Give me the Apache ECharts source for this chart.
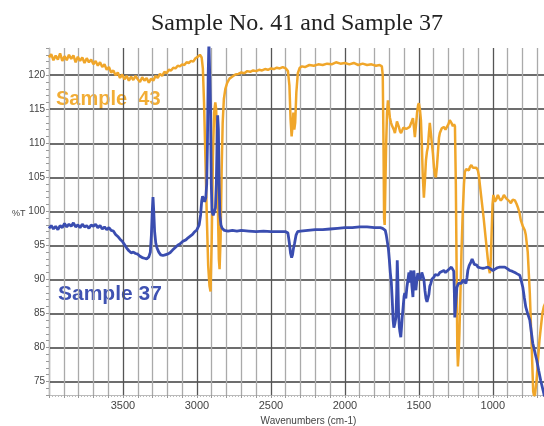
<!DOCTYPE html>
<html>
<head>
<meta charset="utf-8">
<script src="https://cdn.jsdelivr.net/npm/echarts@6/dist/echarts.min.js"></script>
<style>
  html, body { margin: 0; padding: 0; background: #fff; }
  #chart { width: 544px; height: 426px; }
</style>
</head>
<body>
<div id="chart"></div>
<script>
// Sample 43 (orange) : wavenumber cm-1 / %T
var wn43 = [
  4000,3985,3970,3955,3940,3925,3910,3895,3880,3865,
  3850,3835,3820,3805,3790,3775,3760,3745,3730,3715,
  3700,3685,3670,3655,3640,3625,3610,3595,3580,3565,
  3550,3535,3520,3505,3490,3475,3460,3445,3430,3415,
  3400,3385,3370,3355,3340,3325,3310,3295,3280,3265,
  3250,3235,3220,3205,3190,3175,3160,3145,3130,3115,
  3100,3085,3070,3055,3040,3025,3010,2995,2980,2968,
  2960,2952,2943,2933,2924,2915,2908,2900,2892,2884,
  2876,2870,2864,2858,2852,2847,2840,2833,2826,2818,
  2808,2795,2780,2760,2740,2720,2700,2680,2660,2640,
  2620,2600,2580,2560,2540,2520,2500,2480,2460,2440,
  2420,2400,2385,2375,2367,2360,2354,2348,2342,2336,
  2328,2318,2305,2290,2270,2240,2210,2180,2150,2120,
  2090,2060,2030,2000,1970,1940,1910,1880,1850,1820,
  1790,1765,1750,1744,1739,1735,1731,1727,1721,1715,
  1709,1702,1696,1688,1682,1676,1669,1662,1655,1648,
  1642,1635,1628,1620,1615,1605,1595,1585,1574,1562,
  1550,1540,1533,1527,1520,1512,1505,1500,1493,1486,
  1480,1474,1466,1459,1452,1445,1439,1432,1426,1419,
  1412,1405,1398,1391,1385,1378,1370,1364,1358,1345,
  1331,1320,1311,1300,1291,1280,1270,1262,1256,1250,
  1245,1240,1236,1231,1226,1220,1212,1203,1195,1189,
  1180,1170,1162,1155,1145,1135,1122,1112,1101,1094,
  1088,1075,1062,1048,1034,1026,1020,1014,1008,1002,
  996,986,976,966,956,946,935,925,919,910,
  899,889,878,865,851,840,831,820,811,797,
  784,777,764,750,737,727,718,705,695,685,
  675,665,655,645
];
var t43 = [
  122.6,123.1,122.2,122.9,122.3,123.2,122.1,122.8,122.2,123.0,
  122.4,122.9,121.9,122.7,122.1,122.6,121.8,122.5,121.9,122.3,
  121.6,122.1,121.4,121.9,121.2,121.6,120.8,121.2,120.4,120.7,
  120.0,120.4,119.6,120.1,119.4,119.9,119.2,119.8,119.3,119.9,
  119.4,119.0,119.7,119.2,119.6,118.9,119.5,119.2,119.9,119.6,
  120.2,119.9,120.5,120.3,120.8,120.7,121.1,121.0,121.4,121.3,
  121.6,121.5,121.9,121.8,122.1,122.0,122.5,122.7,123.0,122.6,
  121.0,116.0,108.0,99.0,92.0,89.0,88.2,96.0,108.0,114.5,
  116.0,115.0,110.0,100.0,93.0,91.5,96.0,106.0,113.0,116.5,
  118.0,118.9,119.5,119.8,120.1,120.2,120.4,120.3,120.6,120.5,
  120.7,120.6,120.8,120.7,120.9,120.8,121.0,120.9,121.1,121.0,
  121.2,121.0,120.6,118.5,113.5,111.0,112.5,114.5,112.0,113.0,
  117.5,120.3,121.1,121.3,121.2,121.5,121.4,121.6,121.5,121.7,
  121.6,121.9,121.7,121.8,121.6,121.8,121.5,121.7,121.5,121.6,
  121.4,121.5,121.3,120.0,110.0,99.0,98.0,103.0,110.0,114.5,
  116.3,115.0,113.8,113.0,112.6,112.4,112.0,111.5,112.3,113.2,
  113.4,112.4,111.8,111.5,111.6,112.3,112.4,112.1,111.9,112.4,
  113.1,113.7,112.3,110.9,112.5,114.5,115.6,115.9,115.0,113.4,
  110.0,105.5,102.0,104.5,107.5,108.8,109.4,111.5,113.0,111.5,
  110.0,108.5,106.5,105.3,105.0,106.5,109.0,110.8,111.5,112.2,
  112.4,112.0,112.0,112.8,113.4,113.0,112.5,112.8,112.5,104.0,
  92.0,80.0,77.2,79.0,82.0,87.0,94.0,100.0,104.0,105.8,
  106.2,106.3,106.0,106.5,106.8,106.4,106.3,106.4,106.0,105.2,
  104.0,101.5,99.0,96.0,93.0,91.5,90.9,92.5,97.0,101.0,
  102.4,101.4,101.8,102.4,101.9,101.6,101.9,102.4,102.3,101.9,
  102.0,101.5,101.2,101.7,101.6,101.1,100.6,99.8,98.7,97.8,
  97.2,96.5,94.0,88.0,80.0,73.5,72.5,75.0,78.0,81.0,
  83.0,85.0,86.0,86.5
];

// Sample 37 (blue)
var wn37 = [
  4000,3985,3970,3955,3940,3925,3910,3895,3880,3865,
  3850,3835,3820,3805,3790,3775,3760,3745,3730,3715,
  3700,3685,3670,3655,3640,3625,3610,3595,3580,3565,
  3550,3535,3520,3505,3490,3475,3460,3445,3430,3415,
  3400,3385,3370,3355,3340,3325,3315,3308,3302,3297,
  3292,3286,3278,3270,3258,3245,3230,3215,3200,3182,
  3165,3150,3130,3115,3095,3075,3060,3047,3030,3015,
  3000,2985,2975,2968,2962,2955,2948,2940,2934,2929,
  2924,2919,2913,2908,2903,2898,2890,2882,2875,2869,
  2864,2860,2855,2850,2845,2838,2830,2815,2790,2760,
  2730,2700,2650,2600,2550,2500,2450,2400,2385,2375,
  2367,2360,2354,2348,2340,2330,2320,2300,2250,2200,
  2150,2100,2050,2000,1950,1900,1850,1800,1760,1745,
  1735,1727,1720,1713,1706,1700,1693,1686,1680,1674,
  1669,1662,1655,1650,1646,1642,1637,1632,1628,1622,
  1617,1612,1606,1600,1595,1588,1581,1574,1567,1561,
  1554,1547,1540,1534,1527,1520,1513,1507,1500,1493,
  1486,1480,1473,1466,1459,1452,1445,1439,1432,1426,
  1419,1412,1405,1399,1390,1378,1370,1358,1345,1331,
  1320,1311,1300,1291,1280,1270,1264,1260,1257,1252,
  1243,1233,1223,1213,1203,1192,1182,1175,1169,1160,
  1149,1140,1135,1125,1115,1108,1101,1085,1067,1050,
  1034,1020,1000,985,970,953,940,919,905,885,
  870,851,835,818,808,797,787,777,765,750,
  740,730,716,703,690,676,665,655,645
];
var t37 = [
  97.5,97.9,97.4,97.8,97.3,97.9,97.6,98.2,97.7,98.1,
  97.8,98.3,97.7,98.0,97.6,98.1,97.7,97.9,97.5,98.0,
  97.8,98.1,97.6,97.9,97.4,97.7,97.3,97.6,97.2,97.1,
  96.6,96.3,95.9,95.6,95.1,94.6,94.2,93.9,94.0,93.8,
  93.7,93.4,93.2,93.1,93.0,93.3,94.0,96.5,100.0,102.1,
  100.0,97.0,95.3,94.6,94.0,93.6,93.5,93.6,93.7,93.9,
  94.3,94.6,95.0,95.2,95.6,95.8,96.1,96.2,96.6,97.0,
  97.3,98.0,99.5,101.5,102.2,101.8,101.4,102.0,104.0,110.0,
  120.0,125.0,125.0,115.0,104.0,100.0,99.4,99.6,100.5,104.0,
  110.0,114.1,112.0,104.0,99.5,98.0,97.5,97.2,97.1,97.2,
  97.1,97.2,97.1,97.0,97.1,97.0,97.0,97.0,96.8,95.3,
  93.8,93.2,93.6,94.5,95.3,96.5,97.0,97.1,97.2,97.3,
  97.3,97.4,97.5,97.6,97.6,97.7,97.7,97.6,97.6,97.5,
  97.4,97.2,96.5,95.5,94.5,93.0,91.0,89.5,87.0,84.0,
  82.9,83.5,84.4,88.0,92.8,90.0,85.0,83.0,82.3,81.5,
  83.0,84.5,86.0,87.5,88.0,87.2,88.8,89.0,91.0,89.5,
  91.3,89.0,87.4,91.3,89.5,88.4,90.0,90.9,90.5,90.0,
  90.3,91.0,91.0,90.0,88.4,87.2,86.7,86.5,87.8,89.0,
  89.4,90.0,90.1,90.3,90.7,90.9,90.6,91.0,91.2,91.3,
  91.0,91.0,91.4,91.6,91.8,91.9,91.2,88.0,84.4,86.0,
  88.8,89.4,89.6,89.4,89.9,89.8,89.4,90.2,91.3,92.0,
  92.5,93.0,92.9,92.2,92.4,92.1,91.8,91.7,91.6,91.7,
  91.8,91.6,91.3,91.5,91.7,91.8,91.9,91.8,91.6,91.3,
  91.2,91.0,90.8,90.6,89.8,88.8,87.3,85.9,85.0,84.0,
  82.3,80.6,79.3,78.1,76.6,75.1,74.1,73.2,72.0
];

// labelled ticks
var xLabels = [1000, 1500, 2000, 2500, 3000, 3500];
var yLabels = [75, 80, 85, 90, 95, 100, 105, 110, 115, 120];

function pairs(wn, t) {
  var out = [];
  var n = Math.min(wn.length, t.length);
  for (var i = 0; i < n; i++) {
    out.push([wn[i], t[i]]);
  }
  return out;
}

var chart = echarts.init(document.getElementById('chart'));
var none = 'rgba(0,0,0,0)';

var option = {
  animation: false,
  backgroundColor: '#fff',
  title: {
    text: 'Sample No. 41 and Sample 37',
    left: 146,
    top: 7,
    textStyle: {
      fontFamily: 'Liberation Serif',
      fontSize: 24,
      fontWeight: 'normal',
      color: '#222'
    }
  },
  grid: { left: 49, right: -8, top: 48, bottom: 31, containLabel: false, outerBoundsMode: 'none' },
  xAxis: {
    type: 'value',
    inverse: true,
    min: 600,
    max: 4000,
    interval: 100,
    name: 'Wavenumbers (cm-1)',
    nameLocation: 'middle',
    nameGap: 20,
    nameTextStyle: { fontSize: 10, color: '#444', fontFamily: 'Liberation Sans', padding: [0, 0, 0, 16] },
    axisLine: { show: true, lineStyle: { color: '#bbb', width: 1 } },
    axisTick: { show: true, length: 3, lineStyle: { color: '#999' } },
    minorTick: { show: true, splitNumber: 5, length: 2, lineStyle: { color: '#bbb' } },
    axisLabel: {
      fontSize: 11,
      color: '#444',
      fontFamily: 'Liberation Sans',
      margin: 5,
      formatter: function (v) { return xLabels.indexOf(v) >= 0 ? String(v) : ''; }
    },
    splitLine: {
      show: true,
      lineStyle: { color: ['#aaa', '#aaa', '#aaa', '#aaa', '#555'], width: 1.3 }
    }
  },
  yAxis: {
    type: 'value',
    min: 73,
    max: 124,
    interval: 1,
    axisLine: { show: true, lineStyle: { color: '#bbb', width: 1 } },
    axisTick: { show: true, length: 3, lineStyle: { color: '#999' } },
    axisLabel: {
      fontSize: 10,
      color: '#444',
      fontFamily: 'Liberation Sans',
      margin: 4,
      formatter: function (v) { return yLabels.indexOf(v) >= 0 ? String(v) : ''; }
    },
    splitLine: {
      show: true,
      lineStyle: { color: [none, none, '#3c3c3c', none, none], width: 1.5 }
    }
  },
  graphic: [
    { type: 'text', left: 12, top: 209, style: { text: '%T', fontSize: 9, fill: '#444', fontFamily: 'Liberation Sans' } },
    { type: 'text', left: 56, top: 89, style: { text: 'Sample  43', fontSize: 20, fontWeight: 'bold', fill: '#f2ad35', fontFamily: 'Liberation Sans' } },
    { type: 'text', left: 58, top: 284, style: { text: 'Sample 37', fontSize: 21, fontWeight: 'bold', fill: '#3f52b2', fontFamily: 'Liberation Sans' } }
  ],
  series: [
    {
      name: 'Sample 43',
      type: 'line',
      data: pairs(wn43, t43),
      showSymbol: false,
      clip: true,
      lineStyle: { color: '#f0a62a', width: 2.5 },
      itemStyle: { color: '#f0a62a' }
    },
    {
      name: 'Sample 37',
      type: 'line',
      data: pairs(wn37, t37),
      showSymbol: false,
      clip: true,
      lineStyle: { color: '#3a4db0', width: 2.8 },
      itemStyle: { color: '#3a4db0' }
    }
  ]
};
chart.setOption(option);
</script>
</body>
</html>
